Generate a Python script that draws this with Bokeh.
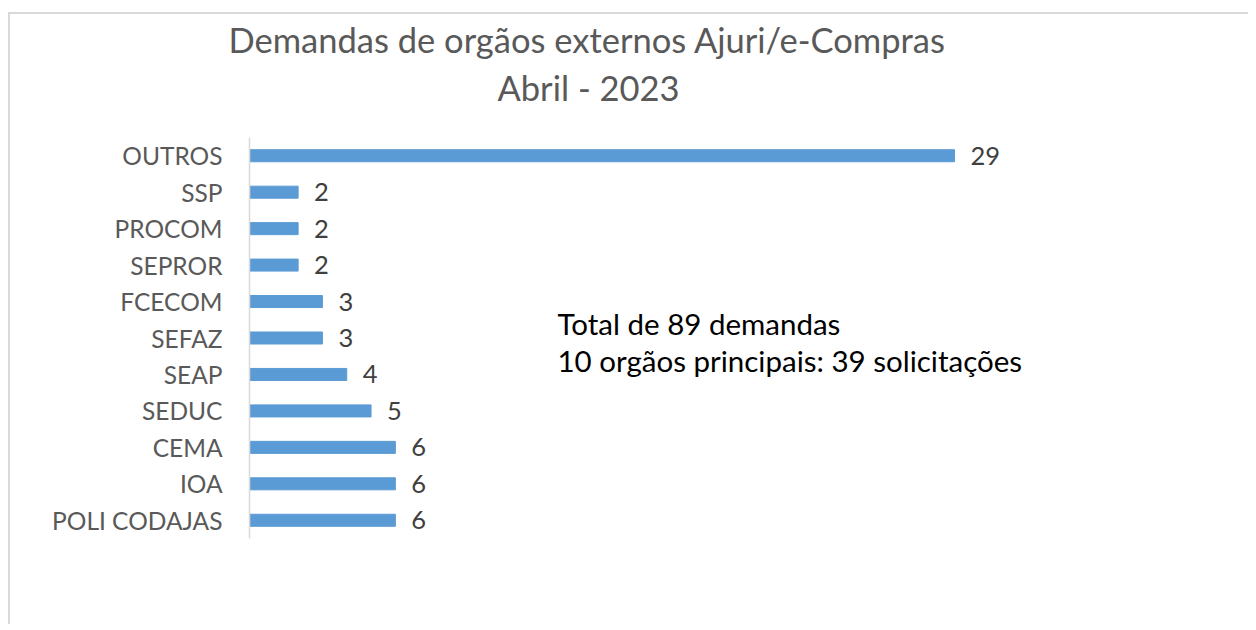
from bokeh.plotting import figure
from bokeh.layouts import column
from bokeh.models import FactorRange, Range1d, Label, ColumnDataSource, Title
from bokeh.core.properties import value
from bokeh.embed import file_html
from bokeh.resources import INLINE

# Data (top to bottom as displayed)
categories = ["OUTROS", "SSP", "PROCOM", "SEPROR", "FCECOM", "SEFAZ", "SEAP", "SEDUC", "CEMA", "IOA", "POLI CODAJAS"]
counts = [29, 2, 2, 2, 3, 3, 4, 5, 6, 6, 6]
title_lines = ["Demandas de orgãos externos Ajuri/e-Compras", "Abril - 2023"]
note_lines = ["Total de 89 demandas", "10 orgãos principais: 39 solicitações"]

W = 1238
TH = 100             # title strip height
H2 = 510             # chart height
FL, FR, FT, FB = 239, 46, 23, 86
FONT = "Lato"

# ---- title strip (titles live in the 'above' panel, so they are not clipped) ----
t = figure(width=W, height=TH, output_backend="svg", toolbar_location=None, title=None,
           x_axis_type=None, y_axis_type=None,
           x_range=Range1d(0, 1), y_range=Range1d(0, 1),
           min_border=0, min_border_left=0, min_border_right=0, min_border_top=0, min_border_bottom=0)
t.grid.visible = False
t.outline_line_color = None
t.add_layout(Title(text=title_lines[1], align="left", offset=248, standoff=5,
                   text_font=FONT, text_font_size="34.5px", text_font_style="normal",
                   text_color="#595959"), "above")
t.add_layout(Title(text=title_lines[0], align="left", offset=-21, standoff=5,
                   text_font=FONT, text_font_size="34.5px", text_font_style="normal",
                   text_color="#595959"), "above")

# ---- bar chart ----
src = ColumnDataSource(dict(cat=categories, n=counts, lbl=[str(v) for v in counts]))

p = figure(width=W, height=H2, output_backend="svg", toolbar_location=None,
           y_range=FactorRange(*categories[::-1]), x_range=Range1d(0, 39.2),
           min_border_left=FL, min_border_right=FR, min_border_top=FT, min_border_bottom=FB)
p.outline_line_color = None
p.xgrid.visible = False
p.ygrid.visible = False
p.xaxis.visible = False
p.yaxis.axis_line_color = "#d9d9d9"
p.yaxis.axis_line_width = 1.5
p.yaxis.major_tick_line_color = None
p.yaxis.minor_tick_line_color = None
p.yaxis.major_label_text_font = FONT
p.yaxis.major_label_text_font_size = "24.5px"
p.yaxis.major_label_text_color = "#595959"
p.yaxis.major_label_standoff = 21

p.hbar(y="cat", right="n", height=0.33, left=0, color="#5b9bd5", source=src)
p.text(x="n", y="cat", text="lbl", source=src, x_offset=16, text_baseline="middle", text_align="left",
       text_font=value(FONT), text_font_size="25.5px", text_color="#404040")

frame_bottom_page = 14 + TH + H2 - FB
for txt, cy in zip(note_lines, [323, 360]):
    p.add_layout(Label(x=308, y=frame_bottom_page - cy, x_units="screen", y_units="screen", text=txt,
                       text_align="left", text_baseline="middle", text_font=FONT,
                       text_font_size="29.5px", text_color="#000000"))

lay = column(t, p, spacing=0)
lay.styles = {"border-left": "2px solid #d9d9d9", "border-top": "2px solid #d9d9d9",
              "margin-left": "8px", "margin-top": "12px"}

open("out.html", "w").write(file_html(lay, INLINE))
